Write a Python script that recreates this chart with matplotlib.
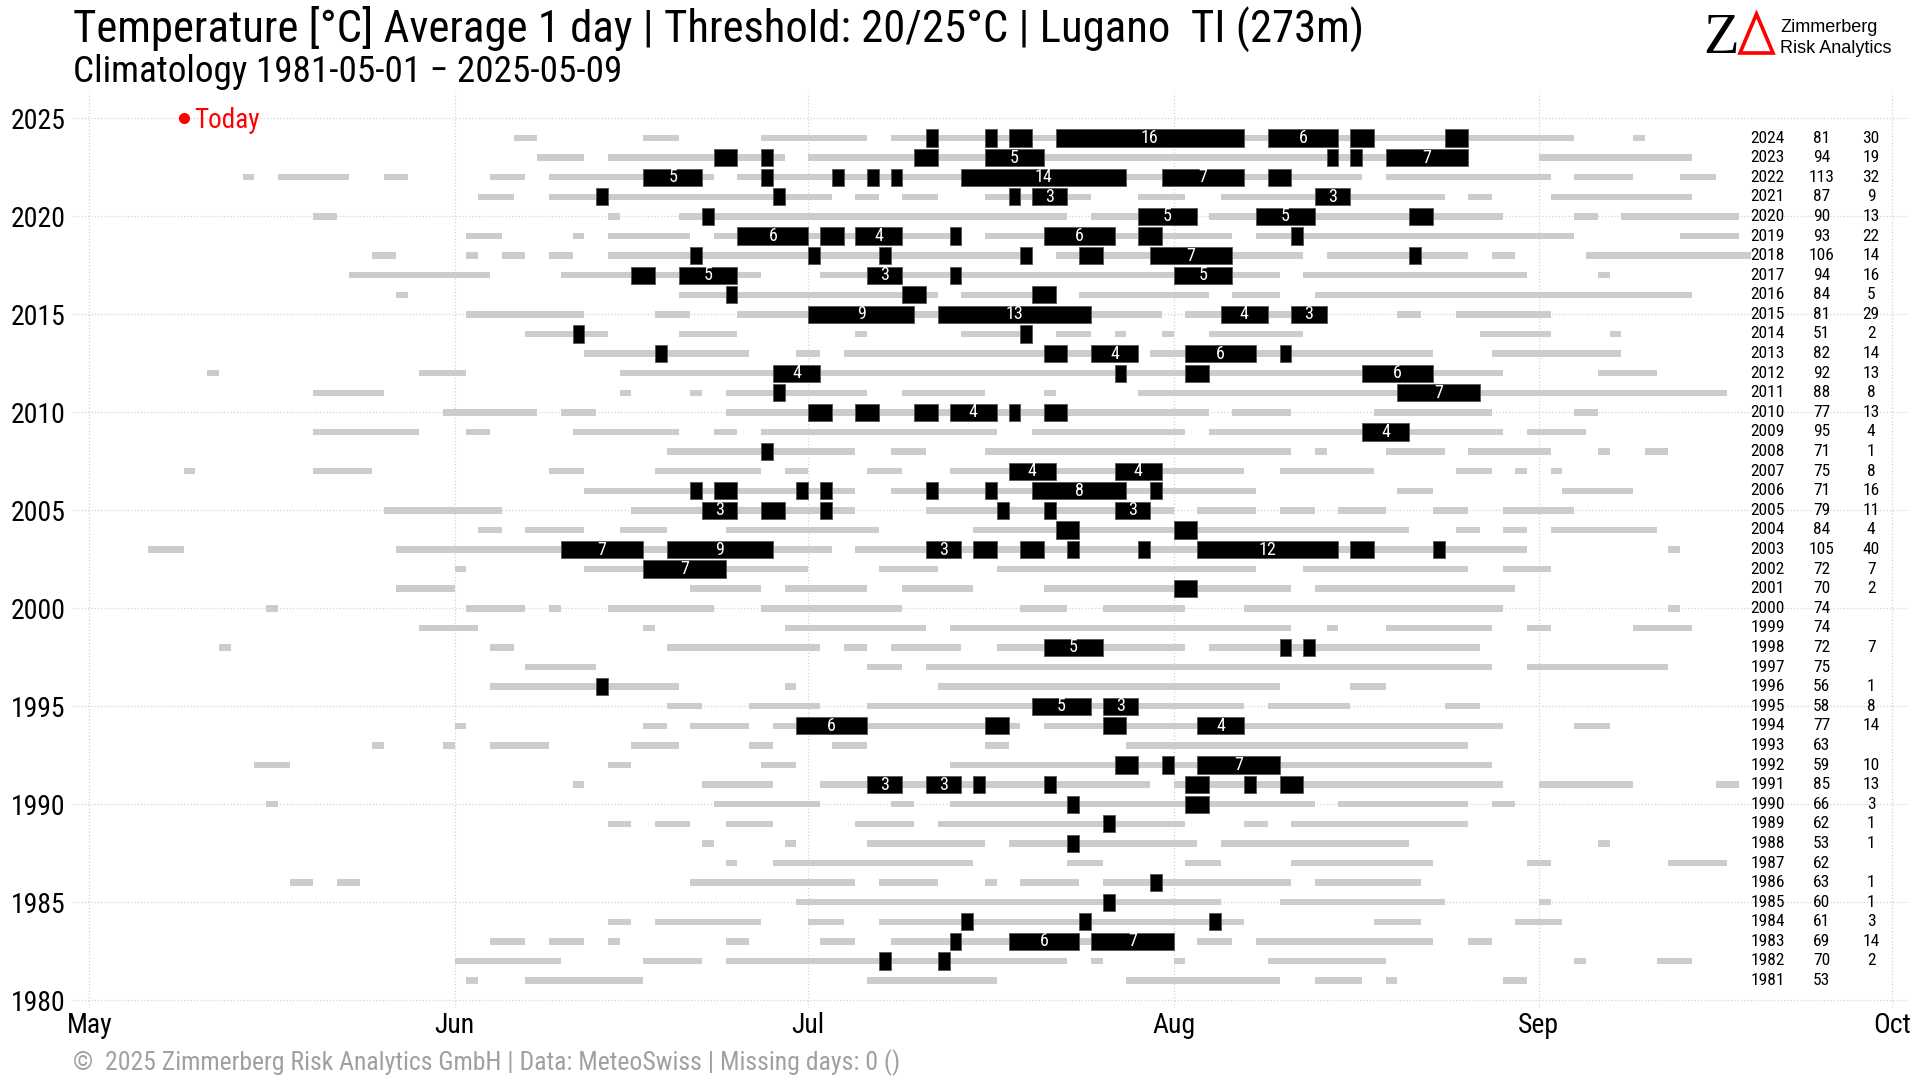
import matplotlib.pyplot as plt
from matplotlib import font_manager
from matplotlib.patches import Polygon

# days counted from May 1 (= 0); runs are (start, end)
years = list(range(2024, 1980, -1))

warm_runs = [
    [(36, 38), (47, 50), (57, 66), (68, 126), (131, 132)],
    [(38, 42), (44, 59), (61, 117), (123, 136)],
    [(13, 14), (16, 22), (25, 27), (34, 37), (39, 53), (55, 108), (110, 124), (126, 131), (135, 138)],
    [(33, 36), (39, 63), (65, 67), (69, 72), (76, 85), (89, 93), (96, 115), (117, 119), (124, 136)],
    [(19, 21), (44, 45), (50, 83), (85, 94), (95, 120), (126, 128), (130, 140)],
    [(32, 35), (41, 42), (44, 51), (53, 74), (76, 97), (99, 126), (135, 140)],
    [(24, 26), (32, 33), (35, 37), (39, 41), (44, 80), (82, 103), (105, 117), (119, 121), (127, 141)],
    [(22, 34), (40, 57), (62, 101), (103, 122), (128, 129)],
    [(26, 27), (50, 72), (74, 82), (84, 95), (97, 101), (104, 136)],
    [(32, 42), (48, 51), (55, 91), (93, 105), (111, 113), (116, 124)],
    [(37, 44), (50, 55), (65, 66), (74, 80), (82, 85), (87, 88), (91, 92), (95, 103), (118, 124), (129, 130)],
    [(42, 56), (60, 62), (64, 89), (90, 114), (119, 130)],
    [(10, 11), (28, 32), (45, 120), (128, 133)],
    [(19, 25), (45, 46), (51, 52), (54, 66), (69, 76), (81, 82), (89, 139)],
    [(30, 38), (40, 43), (54, 95), (97, 102), (109, 119), (126, 128)],
    [(19, 28), (32, 34), (41, 50), (53, 55), (57, 77), (80, 93), (95, 120), (122, 127)],
    [(49, 65), (68, 71), (76, 102), (104, 105), (110, 115), (117, 124), (128, 129), (132, 134)],
    [(8, 9), (19, 24), (39, 42), (48, 57), (59, 61), (66, 69), (73, 98), (101, 109), (116, 119), (121, 122), (124, 125)],
    [(42, 65), (68, 99), (111, 114), (125, 131)],
    [(25, 35), (46, 65), (71, 92), (94, 99), (101, 104), (106, 110), (114, 117), (120, 126)],
    [(33, 35), (37, 42), (45, 49), (54, 67), (75, 112), (116, 118), (120, 122), (124, 133)],
    [(5, 8), (26, 63), (65, 122), (134, 135)],
    [(31, 32), (42, 61), (67, 72), (77, 99), (103, 117), (120, 124)],
    [(26, 31), (51, 57), (59, 66), (69, 75), (81, 102), (104, 121)],
    [(15, 16), (32, 37), (39, 40), (44, 53), (57, 69), (79, 83), (86, 93), (98, 120), (134, 135)],
    [(28, 33), (47, 48), (59, 71), (73, 102), (105, 106), (110, 119), (122, 124), (131, 136)],
    [(11, 12), (34, 36), (49, 62), (64, 66), (68, 74), (77, 93), (95, 118)],
    [(37, 43), (66, 69), (71, 119), (122, 134)],
    [(34, 50), (59, 60), (72, 101), (107, 110)],
    [(49, 52), (56, 62), (66, 98), (100, 107), (115, 118)],
    [(31, 32), (47, 49), (51, 56), (58, 79), (81, 120), (126, 129)],
    [(24, 25), (30, 31), (34, 39), (46, 50), (56, 58), (63, 66), (76, 78), (88, 117)],
    [(14, 17), (44, 46), (57, 60), (73, 119)],
    [(41, 42), (52, 58), (62, 90), (92, 120), (123, 131), (138, 140)],
    [(15, 16), (53, 62), (68, 70), (73, 104), (106, 117), (119, 121)],
    [(44, 46), (48, 51), (54, 58), (65, 70), (72, 93), (98, 100), (102, 117)],
    [(52, 53), (59, 60), (66, 76), (78, 94), (96, 112), (128, 129)],
    [(54, 55), (58, 75), (83, 86), (93, 96), (102, 114), (122, 124), (134, 139)],
    [(17, 19), (21, 23), (51, 65), (67, 72), (76, 77), (79, 84), (86, 102), (104, 113)],
    [(60, 96), (101, 115), (123, 124)],
    [(44, 46), (48, 57), (61, 64), (67, 98), (109, 113), (121, 125)],
    [(34, 37), (39, 42), (44, 45), (54, 56), (62, 65), (68, 92), (94, 97), (99, 114), (117, 119)],
    [(31, 40), (47, 52), (54, 83), (85, 86), (92, 93), (100, 110), (126, 127), (133, 136)],
    [(32, 33), (37, 47), (66, 77), (88, 101), (104, 108), (110, 111), (120, 122)],
]

hot_runs = [
    [(71, 72), (76, 77), (78, 80), (82, 98), (100, 106), (107, 109), (115, 117)],
    [(53, 55), (57, 58), (70, 72), (76, 81), (105, 106), (107, 108), (110, 117)],
    [(47, 52), (57, 58), (63, 64), (66, 67), (68, 69), (74, 88), (91, 98), (100, 102)],
    [(43, 44), (58, 59), (78, 79), (80, 83), (104, 107)],
    [(52, 53), (89, 94), (99, 104), (112, 114)],
    [(55, 61), (62, 64), (65, 69), (73, 74), (81, 87), (89, 91), (102, 103)],
    [(51, 52), (61, 62), (67, 68), (79, 80), (84, 86), (90, 97), (112, 113)],
    [(46, 48), (50, 55), (66, 69), (73, 74), (92, 97)],
    [(54, 55), (69, 71), (80, 82)],
    [(61, 70), (72, 85), (96, 100), (102, 105)],
    [(41, 42), (79, 80)],
    [(48, 49), (81, 83), (85, 89), (93, 99), (101, 102)],
    [(58, 62), (87, 88), (93, 95), (108, 114)],
    [(58, 59), (111, 118)],
    [(61, 63), (65, 67), (70, 72), (73, 77), (78, 79), (81, 83)],
    [(108, 112)],
    [(57, 58)],
    [(78, 82), (87, 91)],
    [(51, 52), (53, 55), (60, 61), (62, 63), (71, 72), (76, 77), (80, 88), (90, 91)],
    [(52, 55), (57, 59), (62, 63), (77, 78), (81, 82), (87, 90)],
    [(82, 84), (92, 94)],
    [(40, 47), (49, 58), (71, 74), (75, 77), (79, 81), (83, 84), (89, 90), (94, 106), (107, 109), (114, 115)],
    [(47, 54)],
    [(92, 94)],
    [],
    [],
    [(81, 86), (101, 102), (103, 104)],
    [],
    [(43, 44)],
    [(80, 85), (86, 89)],
    [(60, 66), (76, 78), (86, 88), (94, 98)],
    [],
    [(87, 89), (91, 92), (94, 101)],
    [(66, 69), (71, 74), (75, 76), (81, 82), (93, 95), (98, 99), (101, 103)],
    [(83, 84), (93, 95)],
    [(86, 87)],
    [(83, 84)],
    [],
    [(90, 91)],
    [(86, 87)],
    [(74, 75), (84, 85), (95, 96)],
    [(73, 74), (78, 84), (85, 92)],
    [(67, 68), (72, 73)],
    [],
]

days_20 = [81, 94, 113, 87, 90, 93, 106, 94, 84, 81, 51, 82, 92, 88, 77, 95, 71, 75, 71, 79,
           84, 105, 72, 70, 74, 74, 72, 75, 56, 58, 77, 63, 59, 85, 66, 62, 53, 62, 63, 60,
           61, 69, 70, 53]
days_25 = [30, 19, 32, 9, 13, 22, 14, 16, 5, 29, 2, 14, 13, 8, 13, 4, 1, 8, 16, 11,
           4, 40, 7, 2, None, None, 7, None, 1, 8, 14, None, 10, 13, 3, 1, 1, None, 1, 1,
           3, 14, 2, None]

month_days = [0, 31, 61, 92, 123, 153]
month_labels = ['May', 'Jun', 'Jul', 'Aug', 'Sep', 'Oct']
today_day = 8
today_year = 2025

names = {f.name for f in font_manager.fontManager.ttflist}
cond = 'Roboto Condensed' if 'Roboto Condensed' in names else 'Roboto'
plt.rcParams['font.family'] = [cond, 'DejaVu Sans']

W, H = 1920, 1080
fig = plt.figure(figsize=(19.2, 10.8), dpi=100)
ax = fig.add_axes([71 / W, 1 - 1008 / H, (1910 - 71) / W, (1008 - 93) / H])

for y, runs in zip(years, warm_runs):
    ax.barh([y] * len(runs), [e - s for s, e in runs], left=[s for s, e in runs],
            height=0.33, color='#cccccc', linewidth=0, zorder=2)

for y, runs in zip(years, hot_runs):
    if not runs:
        continue
    ax.barh([y] * len(runs), [e - s for s, e in runs], left=[s for s, e in runs],
            height=0.88, color='black', edgecolor='#555555', linewidth=0.6, zorder=3)
    for s, e in runs:
        if e - s >= 3:
            ax.text((s + e) / 2, y, str(e - s), color='white', ha='center', va='center',
                    fontsize=13, zorder=4)

# count table on the right
for y, n20, n25 in zip(years, days_20, days_25):
    ax.text(142.4, y, str(y), ha='center', va='center', fontsize=12.5)
    ax.text(147.0, y, str(n20), ha='center', va='center', fontsize=12.5)
    if n25 is not None:
        ax.text(151.2, y, str(n25), ha='center', va='center', fontsize=12.5)

ax.plot([today_day], [today_year], 'o', color='red', markersize=7, zorder=5)
ax.text(today_day + 0.9, today_year - 0.1, 'Today', color='red', fontsize=19.5, va='center', ha='left')

ax.set_xlim(-1.56, 154.5)
ax.set_ylim(1979.6, 2026.3)
ax.set_xticks(month_days)
ax.set_xticklabels(month_labels)
ax.set_yticks(range(1980, 2026, 5))
ax.tick_params(axis='both', length=0, labelsize=20)
ax.tick_params(axis='x', pad=3)
ax.tick_params(axis='y', pad=4)
for sp in ax.spines.values():
    sp.set_visible(False)
ax.grid(color='#d4d4d4', linestyle=':', linewidth=0.9)
ax.set_axisbelow(True)

fig.text(73 / W, 1 - 42 / H, 'Temperature [°C] Average 1 day | Threshold: 20/25°C | Lugano  TI (273m)',
         fontsize=32.2, va='baseline', ha='left')
fig.text(73 / W, 1 - 82 / H, 'Climatology 1981-05-01 \u2212 2025-05-09',
         fontsize=26.7, va='baseline', ha='left')
fig.text(73 / W, 1 - 1063 / H,
         '\u00a9  2025 Zimmerberg Risk Analytics GmbH | Data: MeteoSwiss | Missing days: 0 ()',
         fontsize=18.5, color='#a0a0a0', va='center', ha='left')

# logo
fig.text(1721 / W, 1 - 53 / H, 'Z', family=['Liberation Serif', 'DejaVu Serif'], fontsize=42,
         ha='center', va='baseline')
tri = [(1740, 53), (1773, 53), (1756.5, 14)]
fig.patches.append(Polygon([(x / W, 1 - y / H) for x, y in tri], closed=True, fill=False,
                           edgecolor='red', linewidth=2.6, transform=fig.transFigure))
fig.text(1780 / W, 1 - 32 / H, 'Zimmerberg', family=['Liberation Sans', 'DejaVu Sans'],
         fontsize=13, va='baseline', ha='left')
fig.text(1780 / W, 1 - 53 / H, 'Risk Analytics', family=['Liberation Sans', 'DejaVu Sans'],
         fontsize=13, va='baseline', ha='left')

fig.savefig('out.png', dpi=100)
